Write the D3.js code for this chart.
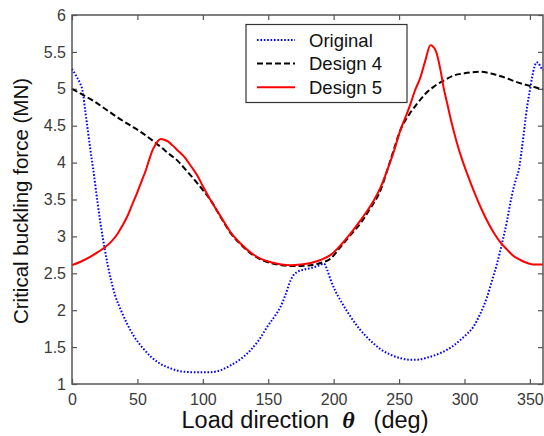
<!DOCTYPE html>
<html>
<head>
<meta charset="utf-8">
<script src="https://cdn.jsdelivr.net/npm/d3@7"></script>
<style>
  body { margin: 0; background: #fff; }
  svg { display: block; font-family: "Liberation Sans", Arial, sans-serif; }
</style>
</head>
<body>
<div id="chart"></div>
<script>
// values (deg -> MN)
const originalDeg = [0, 3, 6, 8, 10, 12, 14, 16.3, 19.6, 22, 24.7, 29.8, 33, 37.4, 42, 47.6, 54, 60.3, 67, 75.6, 84, 93, 106, 114, 121, 129, 136.6, 143, 149.4, 155, 159.5, 163, 167.2, 170, 172.3, 177, 182.4, 188, 192.6, 195, 197.7, 201, 205, 209, 213, 220, 228, 236, 243, 251, 258, 264, 272, 281.7, 290, 297, 302, 307, 312, 317.3, 321, 325, 329, 332.6, 335, 337.7, 340, 341.5, 344, 347.9, 350, 351.7, 353.5, 355, 356.5, 358, 360];
const originalVal = [5.27, 5.18, 5.08, 4.98, 4.72, 4.45, 4.18, 3.9, 3.45, 3.15, 2.86, 2.41, 2.2, 2.0, 1.82, 1.64, 1.49, 1.37, 1.28, 1.21, 1.17, 1.16, 1.16, 1.19, 1.25, 1.34, 1.46, 1.6, 1.78, 1.92, 2.05, 2.2, 2.41, 2.49, 2.52, 2.55, 2.57, 2.6, 2.63, 2.55, 2.41, 2.27, 2.14, 2.02, 1.91, 1.74, 1.59, 1.47, 1.4, 1.35, 1.33, 1.33, 1.36, 1.42, 1.5, 1.6, 1.68, 1.78, 1.95, 2.18, 2.4, 2.64, 2.93, 3.22, 3.45, 3.67, 3.81, 3.9, 4.21, 4.76, 4.98, 5.16, 5.3, 5.36, 5.35, 5.3, 5.25];

const design4Deg = [0, 8, 17, 26, 35, 44, 53, 60, 68, 74, 81, 88, 94, 99, 106, 114, 121.4, 129, 136.6, 144, 151.9, 160, 167.2, 175, 182.4, 190, 197.7, 205.3, 213, 220.6, 228, 235.9, 241, 245, 251, 258, 263.9, 270, 276.6, 284, 291.8, 300, 312.2, 322, 332.6, 340, 347.9, 354, 360];
const design4Val = [5.0, 4.92, 4.83, 4.72, 4.61, 4.51, 4.41, 4.32, 4.21, 4.12, 4.02, 3.88, 3.76, 3.65, 3.49, 3.25, 3.04, 2.89, 2.77, 2.69, 2.64, 2.61, 2.6, 2.6, 2.61, 2.64, 2.7, 2.86, 3.02, 3.18, 3.38, 3.63, 3.9, 4.12, 4.44, 4.66, 4.8, 4.93, 5.03, 5.11, 5.18, 5.21, 5.23, 5.2, 5.14, 5.09, 5.05, 5.02, 4.99];

const design5Deg = [0, 7, 14.5, 20, 25, 30, 35, 38, 42.5, 46, 50, 53, 56.5, 59, 61.6, 64, 66, 68, 70.5, 73, 77, 81, 85.7, 91, 96, 100, 106, 114, 121.4, 129, 136.6, 144, 152, 160, 167, 175, 182.4, 190, 197.7, 205.3, 213, 220.6, 225, 230.8, 236, 241, 246, 251, 255, 258.8, 262, 266.4, 270, 274, 277.9, 281.7, 284, 286.8, 290, 294, 298, 302, 307, 314, 322, 327, 332.6, 337, 342.7, 348, 352.9, 360];
const design5Val = [2.61, 2.66, 2.73, 2.79, 2.85, 2.93, 3.04, 3.13, 3.28, 3.43, 3.6, 3.74, 3.9, 4.04, 4.17, 4.25, 4.3, 4.32, 4.31, 4.29, 4.23, 4.16, 4.08, 3.95, 3.82, 3.68, 3.49, 3.26, 3.05, 2.9, 2.78, 2.7, 2.65, 2.62, 2.61, 2.62, 2.64, 2.68, 2.75, 2.88, 3.04, 3.22, 3.33, 3.49, 3.67, 3.9, 4.15, 4.44, 4.62, 4.8, 4.97, 5.16, 5.38, 5.59, 5.52, 5.25, 5.02, 4.8, 4.55, 4.28, 4.05, 3.85, 3.62, 3.33, 3.06, 2.93, 2.82, 2.74, 2.68, 2.64, 2.62, 2.62];

const xTicks = [0, 50, 100, 150, 200, 250, 300, 350];
const yTicks = [1, 1.5, 2, 2.5, 3, 3.5, 4, 4.5, 5, 5.5, 6];
const seriesNames = ["Original", "Design 4", "Design 5"];

const width = 544, height = 436;
const margin = { top: 15, right: 1, bottom: 52, left: 72 };
const innerW = width - margin.left - margin.right;
const innerH = height - margin.top - margin.bottom;

const svg = d3.select("#chart").append("svg")
  .attr("width", width)
  .attr("height", height);

const g = svg.append("g")
  .attr("transform", `translate(${margin.left},${margin.top})`);

const x = d3.scaleLinear().domain([0, 360]).range([0, innerW]);
const y = d3.scaleLinear().domain([1, 6]).range([innerH, 0]);

const axisColor = "#555";
const labelColor = "#3a3a3a";

function styleAxis(sel) {
  sel.select(".domain").remove();
  sel.selectAll(".tick line").attr("stroke", axisColor).attr("stroke-width", 1.2);
  sel.selectAll(".tick text").attr("fill", labelColor).attr("font-size", 16)
    .attr("font-family", "Liberation Sans, Arial, sans-serif");
}

// bottom + left axes with labels, inward ticks
g.append("g")
  .attr("transform", `translate(0,${innerH})`)
  .call(d3.axisBottom(x).tickValues(xTicks).tickSize(-5).tickPadding(10).tickFormat(d3.format("d")))
  .call(styleAxis);

g.append("g")
  .call(d3.axisLeft(y).tickValues(yTicks).tickSize(-5).tickPadding(6).tickFormat(d => String(d)))
  .call(styleAxis);

// mirrored ticks on top + right
g.append("g")
  .call(d3.axisTop(x).tickValues(xTicks).tickSize(-5).tickFormat(""))
  .call(styleAxis);

g.append("g")
  .attr("transform", `translate(${innerW},0)`)
  .call(d3.axisRight(y).tickValues(yTicks).tickSize(-5).tickFormat(""))
  .call(styleAxis);

// lines
const line = d3.line()
  .x(d => x(d[0]))
  .y(d => y(d[1]))
  .curve(d3.curveMonotoneX);

const series = [
  { name: seriesNames[0], pts: d3.zip(originalDeg, originalVal), color: "#0000ff", dash: "1.6,1.8" },
  { name: seriesNames[1], pts: d3.zip(design4Deg, design4Val), color: "#000000", dash: "6,3" },
  { name: seriesNames[2], pts: d3.zip(design5Deg, design5Val), color: "#ff0000", dash: null }
];

const plot = g.append("g");
series.forEach(s => {
  plot.append("path")
    .datum(s.pts)
    .attr("fill", "none")
    .attr("stroke", s.color)
    .attr("stroke-width", 2)
    .attr("stroke-dasharray", s.dash)
    .attr("d", line);
});

// frame
g.append("rect")
  .attr("x", 0).attr("y", 0)
  .attr("width", innerW).attr("height", innerH)
  .attr("fill", "none")
  .attr("stroke", axisColor)
  .attr("stroke-width", 1.5);

// legend
const leg = svg.append("g");
leg.append("rect")
  .attr("x", 246).attr("y", 24.5)
  .attr("width", 161).attr("height", 78)
  .attr("fill", "#fff")
  .attr("stroke", "#333")
  .attr("stroke-width", 1.2);

series.forEach((s, i) => {
  const ly = 40 + i * 23.6;
  leg.append("line")
    .attr("x1", 257).attr("x2", 295)
    .attr("y1", ly).attr("y2", ly)
    .attr("stroke", s.color)
    .attr("stroke-width", 2)
    .attr("stroke-dasharray", s.dash);
  leg.append("text")
    .attr("x", 309).attr("y", ly + 6.5)
    .attr("font-size", 18.5)
    .attr("fill", "#111")
    .text(s.name);
});

// axis titles
const xt = svg.append("text")
  .attr("x", 305)
  .attr("y", 428)
  .attr("text-anchor", "middle")
  .attr("font-size", 23.5)
  .attr("fill", "#111");
xt.append("tspan").text("Load direction");
xt.append("tspan")
  .attr("dx", 13)
  .attr("font-family", "Liberation Serif, Times New Roman, serif")
  .attr("font-style", "italic")
  .attr("font-weight", "bold")
  .attr("font-size", 24)
  .text("θ");
xt.append("tspan").attr("dx", 19).text("(deg)");

svg.append("text")
  .attr("transform", `translate(28,201) rotate(-90)`)
  .attr("text-anchor", "middle")
  .attr("font-size", 20.5)
  .attr("fill", "#111")
  .text("Critical buckling force (MN)");
</script>
</body>
</html>
